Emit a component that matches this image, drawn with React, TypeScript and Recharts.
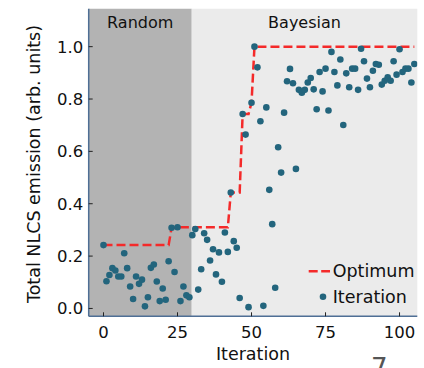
import {
  ComposedChart,
  Scatter,
  Line,
  XAxis,
  YAxis,
  ReferenceArea,
} from "recharts";

const FONT = "'DejaVu Sans', sans-serif";
const RED = "#f42a2a";
const TEAL = "#23657d";
const FRAME = "#4f6f95";

// emission measured at each iteration (index = iteration number)
const emission = [
  0.242, 0.104, 0.128, 0.154, 0.145, 0.122, 0.122, 0.211, 0.154, 0.084,
  0.036, 0.122, 0.094, 0.11, 0.008, 0.043, 0.155, 0.168, 0.103, 0.028,
  0.076, 0.033, 0.18, 0.308, 0.139, 0.31, 0.028, 0.084, 0.05, 0.043,
  0.28, 0.303, 0.072, 0.15, 0.287, 0.262, 0.183, 0.226, 0.13, 0.214,
  0.102, 0.29, 0.216, 0.443, 0.257, 0.232, 0.04, 0.743, 0.664, 0.005,
  0.786, 1.0, 0.921, 0.715, 0.01, 0.768, 0.453, 0.322, 0.079, 0.616,
  0.519, 0.748, 0.868, 0.915, 0.86, 0.533, 0.835, 0.824, 0.835, 0.863,
  0.88, 0.837, 0.761, 0.903, 0.829, 0.916, 0.756, 0.98, 0.903, 0.852,
  0.951, 0.701, 0.898, 0.845, 0.916, 0.916, 0.835, 0.992, 0.944, 0.878,
  0.845, 0.908, 0.934, 0.931, 0.855, 0.87, 0.883, 0.87, 0.944, 0.893,
  0.99, 0.903, 0.916, 0.916, 0.863, 0.934,
];

// corners of the dashed "best so far" line
const optimumIter = [0, 22, 23, 24, 25, 42, 43, 46, 47, 49, 50, 51, 105];
const optimumValue = [
  0.242, 0.242, 0.308, 0.308, 0.31, 0.31, 0.443, 0.443, 0.743, 0.743, 0.786,
  1.0, 1.0,
];

const phaseNames = ["Random", "Bayesian"];
const phaseStart = [-5, 29.8];
const phaseEnd = [29.8, 106];
const phaseFill = ["#b3b3b3", "#ebebeb"];

const xTicks = [0, 25, 50, 75, 100];
const yTicks = [0, 0.2, 0.4, 0.6, 0.8, 1.0];
const xDomain = [-5, 106];
const yDomain = [-0.03, 1.145];

const points = emission.map((v, i) => ({ x: i, y: v }));
const optimum = optimumIter.map((x, i) => ({ x, y: optimumValue[i] }));

function YLabel() {
  return (
    <text
      x={40}
      y={164}
      transform="rotate(-90 40 164)"
      textAnchor="middle"
      fontSize={17.5}
      fill="#111"
      fontFamily={FONT}
    >
      Total NLCS emission (arb. units)
    </text>
  );
}

function XLabel() {
  return (
    <text x={253} y={360} textAnchor="middle" fontSize={17.5} fill="#111" fontFamily={FONT}>
      Iteration
    </text>
  );
}

const Dot = (p: any) => <circle cx={p.cx} cy={p.cy} r={3.3} fill={TEAL} />;

const boxStyle = { position: "absolute" as const, left: 0, top: 0 };

export default function App() {
  const axisLine = { stroke: FRAME, strokeWidth: 1.5 };
  const tickLine = { stroke: "#222", strokeWidth: 1 };
  return (
    <div
      style={{
        position: "absolute",
        left: 0,
        top: 0,
        width: 424,
        height: 368,
        background: "#fff",
        fontFamily: FONT,
        overflow: "hidden",
      }}
    >
      {/* data layer: shaded phases, optimum line, points */}
      <div style={boxStyle}>
        <ComposedChart
          width={424}
          height={368}
          margin={{ top: 8.7, right: 6.7, left: 88.7, bottom: 51.7 }}
        >
          <XAxis xAxisId="b" type="number" dataKey="x" domain={xDomain} allowDataOverflow hide />
          <YAxis yAxisId="l" type="number" dataKey="y" domain={yDomain} allowDataOverflow hide />
          {phaseNames.map((name, i) => (
            <ReferenceArea
              key={name}
              xAxisId="b"
              yAxisId="l"
              x1={phaseStart[i]}
              x2={phaseEnd[i]}
              y1={yDomain[0]}
              y2={yDomain[1]}
              fill={phaseFill[i]}
              fillOpacity={1}
              stroke="none"
              label={{
                value: name,
                position: "insideTop",
                offset: 8.2,
                fill: "#111",
                fontSize: 16,
              }}
            />
          ))}
          <Line
            xAxisId="b"
            yAxisId="l"
            data={optimum}
            dataKey="y"
            type="linear"
            stroke={RED}
            strokeWidth={2.5}
            strokeDasharray="9 4"
            dot={false}
            isAnimationActive={false}
          />
          <Scatter
            xAxisId="b"
            yAxisId="l"
            data={points}
            dataKey="y"
            shape={Dot}
            isAnimationActive={false}
          />
        </ComposedChart>
      </div>

      {/* frame layer: axes with inward ticks on all four sides */}
      <div style={boxStyle}>
        <ComposedChart
          width={424}
          height={368}
          margin={{ top: 8.7, right: 6.7, left: 28.7, bottom: 0 }}
        >
          <XAxis
            xAxisId="b"
            type="number"
            dataKey="x"
            domain={xDomain}
            allowDataOverflow
            ticks={xTicks}
            height={51.7}
            axisLine={axisLine}
            tickLine={tickLine}
            tickSize={-4}
            tickMargin={14}
            tick={{ fill: "#111", fontSize: 16.5 }}
            label={<XLabel />}
          />
          <XAxis
            xAxisId="t"
            orientation="top"
            type="number"
            dataKey="x"
            domain={xDomain}
            allowDataOverflow
            ticks={xTicks}
            height={0}
            axisLine={axisLine}
            tickLine={tickLine}
            tickSize={-4}
            tick={false}
          />
          <YAxis
            yAxisId="l"
            type="number"
            dataKey="y"
            domain={yDomain}
            allowDataOverflow
            ticks={yTicks}
            width={60}
            axisLine={axisLine}
            tickLine={tickLine}
            tickSize={-4}
            tickMargin={9.4}
            tickFormatter={(v: number) => v.toFixed(1)}
            tick={{ fill: "#111", fontSize: 16.5 }}
            label={<YLabel />}
          />
          <YAxis
            yAxisId="r"
            orientation="right"
            type="number"
            dataKey="y"
            domain={yDomain}
            allowDataOverflow
            ticks={yTicks}
            width={0}
            axisLine={axisLine}
            tickLine={tickLine}
            tickSize={-4}
            tick={false}
          />
          <Line
            xAxisId="b"
            yAxisId="l"
            data={optimum}
            dataKey="y"
            stroke="none"
            dot={false}
            isAnimationActive={false}
          />
          <Line
            xAxisId="t"
            yAxisId="r"
            data={optimum}
            dataKey="y"
            stroke="none"
            dot={false}
            isAnimationActive={false}
          />
        </ComposedChart>
      </div>

      {/* legend */}
      <svg width={424} height={368} style={{ ...boxStyle, pointerEvents: "none" }}>
        <line x1={308.7} x2={330} y1={271.3} y2={271.3} stroke={RED} strokeWidth={2.5} strokeDasharray="9 3.5" />
        <text x={332.7} y={277.3} fontSize={17.5} fill="#111" fontFamily={FONT}>
          Optimum
        </text>
        <circle cx={323} cy={296.7} r={3.3} fill={TEAL} />
        <text x={332.7} y={303} fontSize={17.5} fill="#111" fontFamily={FONT}>
          Iteration
        </text>
        <text x={371} y={377} fontSize={26} fill="#555" fontFamily={FONT}>
          7
        </text>
      </svg>
    </div>
  );
}
